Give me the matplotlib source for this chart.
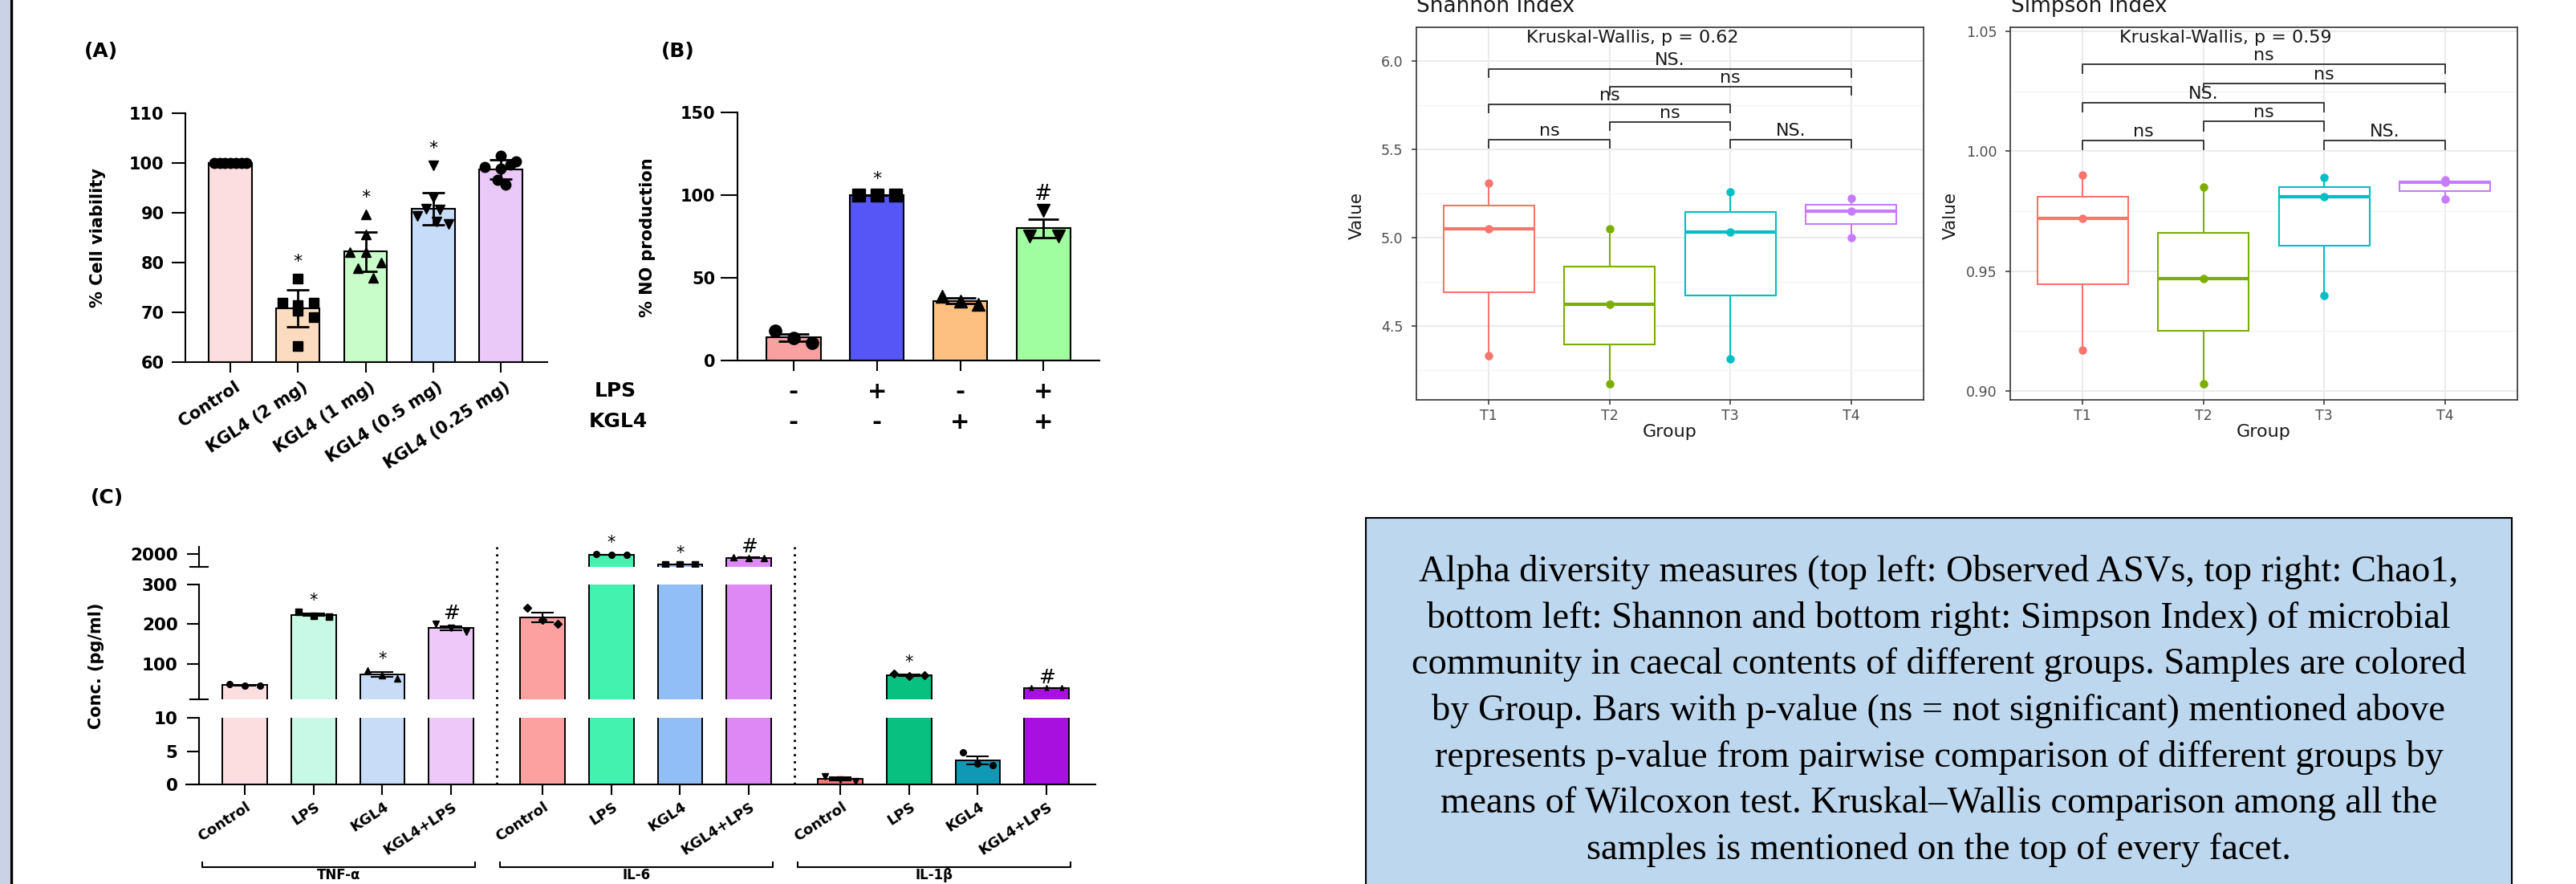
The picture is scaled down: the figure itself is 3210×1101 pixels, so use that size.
import numpy as np
import matplotlib
matplotlib.use('Agg')
import matplotlib.pyplot as plt
from matplotlib.patches import Rectangle
from matplotlib.lines import Line2D
from matplotlib.ticker import FormatStrFormatter
from matplotlib.transforms import blended_transform_factory, ScaledTranslation

# ---------------- data ----------------
# (A) cell viability
a_labels = ['Control', 'KGL4 (2 mg)', 'KGL4 (1 mg)', 'KGL4 (0.5 mg)', 'KGL4 (0.25 mg)']
a_mean = [100.0, 70.8, 82.2, 90.8, 98.7]
a_sd = [0.0, 3.7, 3.9, 3.2, 2.0]
a_points = [
    [100, 100, 100, 100, 100, 100, 100],
    [76.8, 72.0, 72.0, 71.5, 70.3, 69.1, 63.2],
    [89.6, 85.6, 82.1, 82.1, 80.0, 78.9, 77.0],
    [99.5, 93.0, 90.8, 90.6, 89.4, 88.3, 87.7],
    [101.4, 100.3, 99.6, 99.2, 98.8, 96.6, 95.6],
]
a_sig = ['', '*', '*', '*', '']
a_colors = ['#FDDEE0', '#FCDCC0', '#C8FCC8', '#C6DCF8', '#EAC8F8']

# (B) NO production
b_lps = ['-', '+', '-', '+']
b_kgl4 = ['-', '-', '+', '+']
b_mean = [13.9, 100.0, 36.1, 79.9]
b_sd = [2.1, 0.0, 1.6, 5.5]
b_points = [[17.9, 13.5, 10.9], [100, 100, 100], [38.7, 35.7, 34.0], [75.1, 91.0, 75.1]]
b_sig = ['', '*', '', '#']
b_colors = ['#F9A0A0', '#5656F7', '#FDC081', '#A0FDA0']

# (C) cytokines
c_cytokines = ['TNF-α', 'IL-6', 'IL-1β']
c_treat = ['Control', 'LPS', 'KGL4', 'KGL4+LPS']
c_mean = [[46, 223, 72.5, 190], [217, 1990, 1600, 1860], [0.84, 71, 3.6, 38.8]]
c_sem = [[1.0, 3.0, 6.5, 5.0], [12, 5, 5, 10], [0.2, 2.0, 0.6, 0.5]]
c_points = [
    [[49, 45, 45], [231, 220, 219], [83, 71, 62], [200, 191, 181]],
    [[242, 210, 201], [2000, 1990, 1980], [1600, 1600, 1600], [1870, 1860, 1850]],
    [[1.26, 0.77, 0.5], [75, 68, 70], [4.8, 3.1, 2.9], [39, 39, 38.5]],
]
c_sig = [['', '*', '*', '#'], ['', '*', '*', '#'], ['', '*', '', '#']]
c_colors = [['#FDDEE0', '#C8F8E6', '#C8DCF8', '#EEC8F8'],
            ['#FCA0A0', '#44F2B0', '#92BEF8', '#DE88F6'],
            ['#F87878', '#08C080', '#1098B4', '#A810E0']]

# alpha diversity
div_groups = ['T1', 'T2', 'T3', 'T4']
shannon = [[4.33, 5.05, 5.31], [4.17, 4.62, 5.05], [4.31, 5.03, 5.26], [5.00, 5.15, 5.22]]
simpson = [[0.917, 0.972, 0.990], [0.903, 0.947, 0.985], [0.940, 0.981, 0.989], [0.980, 0.987, 0.988]]
shannon_pairs = [(1, 2, 'ns'), (3, 4, 'NS.'), (2, 3, 'ns'), (1, 3, 'ns'), (2, 4, 'ns'), (1, 4, 'NS.')]
simpson_pairs = [(1, 2, 'ns'), (3, 4, 'NS.'), (2, 3, 'ns'), (1, 3, 'NS.'), (2, 4, 'ns'), (1, 4, 'ns')]
shannon_kw = 'Kruskal-Wallis, p = 0.62'
simpson_kw = 'Kruskal-Wallis, p = 0.59'
div_colors = ['#F8766D', '#7CAE00', '#00BFC4', '#C77CFF']

caption_lines = [
    'Alpha diversity measures (top left: Observed ASVs, top right: Chao1,',
    'bottom left: Shannon and bottom right: Simpson Index) of microbial',
    'community in caecal contents of different groups. Samples are colored',
    'by Group. Bars with p-value (ns = not significant) mentioned above',
    'represents p-value from pairwise comparison of different groups by',
    'means of Wilcoxon test. Kruskal\u2013Wallis comparison among all the',
    'samples is mentioned on the top of every facet.',
]

# ---------------- figure ----------------
W, H = 3210, 1101
DPI = 100
plt.rcParams['font.family'] = ['DejaVu Sans']
fig = plt.figure(figsize=(W / DPI, H / DPI), dpi=DPI)


def box(l, t, r, b):
    return [l / W, 1 - b / H, (r - l) / W, (b - t) / H]


def ftext(x, y, s, **kw):
    return fig.text(x / W, 1 - y / H, s, **kw)


def fline(xs, ys, **kw):
    fig.add_artist(Line2D([x / W for x in xs], [1 - y / H for y in ys], **kw))


BOLD = dict(fontweight='bold')

# left border
fig.add_artist(Rectangle((0, 0), 12 / W, 1, transform=fig.transFigure,
                         facecolor='#CAD2E6', edgecolor='none'))
fline([14, 14], [0, H], color='black', lw=2.5)


def prism(ax, ylen, ypad, ysize=15):
    for s in ['top', 'right']:
        ax.spines[s].set_visible(False)
    for s in ['left', 'bottom']:
        ax.spines[s].set_linewidth(1.5)
    ax.tick_params(axis='y', length=ylen, width=1.5, pad=ypad, labelsize=ysize)
    ax.tick_params(axis='x', length=9, width=1.5)
    for lbl in ax.get_yticklabels():
        lbl.set_fontweight('bold')


def shift_labels(ax, dx_px):
    for lbl in ax.get_xticklabels():
        lbl.set_transform(lbl.get_transform() + ScaledTranslation(dx_px / DPI, 0, fig.dpi_scale_trans))


# ---- (A) ----
axA = fig.add_axes(box(231, 141, 682, 451))
xa = np.arange(len(a_labels))
axA.bar(xa, a_mean, width=0.64, color=a_colors, edgecolor='black', linewidth=1.5, zorder=2)
a_marks = ['o', 's', '^', 'v', 'o']
a_offsets = [
    [-0.24, -0.16, -0.08, 0, 0.08, 0.16, 0.24],
    [0, -0.23, 0.23, 0, 0, 0.23, 0],
    [0, 0, -0.23, 0, 0.23, -0.11, 0.11],
    [0, 0, -0.1, 0.1, -0.23, 0.05, 0.23],
    [0, 0.23, 0.14, -0.24, 0, -0.05, 0.07],
]
for i in range(len(a_labels)):
    axA.plot(xa[i] + np.array(a_offsets[i]), a_points[i], ls='none', marker=a_marks[i],
             ms=9, color='black', zorder=3, clip_on=False)
axA.errorbar(xa, a_mean, yerr=a_sd, fmt='none', ecolor='black', elinewidth=2,
             capsize=10, capthick=2, zorder=4)
for i, s in enumerate(a_sig):
    if s:
        axA.annotate(s, (xa[i], max(a_points[i])), xytext=(0, 15), textcoords='offset pixels',
                     ha='center', va='baseline', fontsize=16, annotation_clip=False)
axA.set_xlim(-0.667, 4.69)
axA.set_ylim(60, 110)
axA.set_yticks(np.arange(60, 111, 10))
axA.set_xticks(xa)
axA.set_xticklabels(a_labels, rotation=33, ha='right', va='center', rotation_mode='anchor',
                    fontsize=15, **BOLD)
prism(axA, 12, 7)
axA.tick_params(axis='x', pad=12)
shift_labels(axA, 10)
ftext(126, 64, '(A)', fontsize=18, ha='center', va='center', **BOLD)
ftext(122, 296, '% Cell viability', fontsize=15, rotation=90, ha='center', va='center', **BOLD)

# ---- (B) ----
axB = fig.add_axes(box(919, 140, 1370, 449))
xb = np.arange(len(b_mean))
axB.bar(xb, b_mean, width=0.65, color=b_colors, edgecolor='black', linewidth=1.5, zorder=2)
b_marks = ['o', 's', '^', 'v']
b_offsets = [[-0.22, 0, 0.22], [-0.22, 0, 0.22], [-0.22, 0, 0.22], [-0.17, 0, 0.18]]
for i in range(len(b_mean)):
    axB.plot(xb[i] + np.array(b_offsets[i]), b_points[i], ls='none', marker=b_marks[i],
             ms=11, color='black', zorder=3, clip_on=False)
axB.errorbar(xb, b_mean, yerr=b_sd, fmt='none', ecolor='black', elinewidth=2,
             capsize=14, capthick=2, zorder=4)
for i, s in enumerate(b_sig):
    if s:
        axB.annotate(s, (xb[i], max(b_points[i])), xytext=(0, 14 if s == '*' else 13),
                     textcoords='offset pixels', ha='center', va='baseline',
                     fontsize=16 if s == '*' else 19, annotation_clip=False)
axB.set_xlim(-0.673, 3.67)
axB.set_ylim(0, 150)
axB.set_yticks([0, 50, 100, 150])
axB.set_xticks(xb)
axB.set_xticklabels([])
prism(axB, 15, 5)
ftext(845, 64, '(B)', fontsize=18, ha='center', va='center', **BOLD)
ftext(807, 296, '% NO production', fontsize=15, rotation=90, ha='center', va='center', **BOLD)
ftext(767, 487, 'LPS', fontsize=18, ha='center', va='center', **BOLD)
ftext(770, 525, 'KGL4', fontsize=18, ha='center', va='center', **BOLD)
trB = blended_transform_factory(axB.transData, fig.transFigure)
for i in range(len(b_mean)):
    fig.text(xb[i], 1 - 488 / H, b_lps[i], transform=trB, fontsize=21, ha='center', va='center', **BOLD)
    fig.text(xb[i], 1 - 526 / H, b_kgl4[i], transform=trB, fontsize=21, ha='center', va='center', **BOLD)

# ---- (C) ----
xc = np.array([g * 4.33 + t for g in range(3) for t in range(4)])
seg_lims = [(1500, 2300), (10, 300), (0, 10)]
seg_px = [(681, 706), (728, 871), (894, 977)]
seg_ticks = [[2000], [100, 200, 300], [0, 5, 10]]
c_marks = [['o', 's', '^', 'v'], ['D', 'o', 's', '^'], ['v', 'D', 'o', '*']]
c_off = np.array([-0.22, 0, 0.22])
y_axis_x = -0.665
segs = []
for k in range(3):
    lo, hi = seg_lims[k]
    ax = fig.add_axes(box(232, seg_px[k][0], 1365, seg_px[k][1]))
    ax.set_xlim(-0.852, 12.37)
    ax.set_ylim(lo, hi)
    ax.set_yticks(seg_ticks[k])
    for g in range(3):
        for t in range(4):
            x = xc[g * 4 + t]
            m = c_mean[g][t]
            ax.bar(x, m, width=0.65, color=c_colors[g][t], edgecolor='black',
                   linewidth=1.4, zorder=2)
            pts = np.array(c_points[g][t], dtype=float)
            keep = (pts >= lo) & (pts <= hi)
            if keep.any():
                ax.plot((x + c_off)[keep], pts[keep], ls='none', marker=c_marks[g][t], ms=5.5,
                        color='black', zorder=3)
            if lo <= m <= hi:
                ax.errorbar(x, m, yerr=c_sem[g][t], fmt='none', ecolor='black',
                            elinewidth=1.5, capsize=10, capthick=1.5, zorder=4)
    for s in ['top', 'right']:
        ax.spines[s].set_visible(False)
    ax.spines['left'].set_position(('data', y_axis_x))
    ax.spines['left'].set_linewidth(1.5)
    ax.tick_params(axis='y', length=11, width=1.5, pad=8, labelsize=15.5)
    for lbl in ax.get_yticklabels():
        lbl.set_fontweight('bold')
    if k < 2:
        ax.spines['bottom'].set_visible(False)
        ax.set_xticks([])
    segs.append(ax)

ax_bot = segs[2]
ax_bot.spines['bottom'].set_linewidth(1.5)
ax_bot.set_xticks(xc)
ax_bot.set_xticklabels(c_treat * 3, rotation=33, ha='right', va='center', rotation_mode='anchor',
                       fontsize=13, **BOLD)
ax_bot.tick_params(axis='x', length=9, width=1.5, pad=10)
shift_labels(ax_bot, 6)

for g in range(3):
    for t in range(4):
        s = c_sig[g][t]
        if not s:
            continue
        top = max(max(c_points[g][t]), c_mean[g][t] + c_sem[g][t])
        ax = segs[0] if top > 300 else (segs[1] if top > 10 else segs[2])
        ax.annotate(s, (xc[g * 4 + t], top), xytext=(0, 8 if s == '*' else 6),
                    textcoords='offset pixels', ha='center', va='baseline',
                    fontsize=15 if s == '*' else 18, annotation_clip=False)

# break caps on the y axis
for y in (706, 871):
    fline([237, 259], [y, y], color='black', lw=1.5)

# dotted separators and group brackets
trC = blended_transform_factory(ax_bot.transData, fig.transFigure)
for xs in (xc[3] + 0.66, xc[7] + 0.66):
    ax_bot.plot([xs, xs], [1 - 977 / H, 1 - 681 / H], transform=trC, color='black', lw=2,
                ls=(0, (1, 2.2)), clip_on=False)
for g in range(3):
    x0, x1 = xc[g * 4] - 0.62, xc[g * 4 + 3] + 0.35
    ax_bot.plot([x0, x0, x1, x1], [1 - 1074 / H, 1 - 1080 / H, 1 - 1080 / H, 1 - 1074 / H],
                transform=trC, color='black', lw=1.5, clip_on=False)
    fig.text((x0 + x1) / 2, 1 - 1099 / H, c_cytokines[g], transform=trC, fontsize=12,
             ha='center', va='bottom', **BOLD)

ftext(133, 620, '(C)', fontsize=18, ha='center', va='center', **BOLD)
ftext(120, 829, 'Conc. (pg/ml)', fontsize=15, rotation=90, ha='center', va='center', **BOLD)


# ---------------- alpha diversity ----------------
def diversity(ax, values, ylim, major, minor, fmt, pairs, base, step, tip, kw_text, kw_pos):
    pos = np.arange(1, len(values) + 1)
    for i, v in enumerate(values):
        c = div_colors[i]
        ax.boxplot([v], positions=[pos[i]], widths=0.75, patch_artist=True, showfliers=False,
                   showcaps=False, manage_ticks=False,
                   boxprops=dict(facecolor='white', edgecolor=c, linewidth=1.5),
                   medianprops=dict(color=c, linewidth=3),
                   whiskerprops=dict(color=c, linewidth=1.5), zorder=3)
        ax.plot([pos[i]] * len(v), v, 'o', color=c, ms=6.5, zorder=4)
    levels = [0, 0, 1, 2, 3, 4]
    for (g1, g2, lab), lv in zip(pairs, levels):
        y = base + step * lv
        ax.plot([g1, g1, g2, g2], [y - tip, y, y, y - tip], color='#3A3A3A', lw=1.4, zorder=5)
        ax.annotate(lab, ((g1 + g2) / 2, y), xytext=(0, 5), textcoords='offset pixels',
                    ha='center', va='baseline', fontsize=16, color='#1A1A1A')
    ax.text(kw_pos[0], kw_pos[1], kw_text, ha='center', va='center', fontsize=16, color='#1A1A1A')
    ax.set_xlim(0.4, 4.6)
    ax.set_ylim(*ylim)
    ax.set_xticks(pos)
    ax.set_xticklabels(div_groups)
    ax.set_yticks(major)
    ax.set_yticks(minor, minor=True)
    ax.yaxis.set_major_formatter(FormatStrFormatter(fmt))
    ax.grid(which='major', color='#EBEBEB', lw=1.4)
    ax.grid(which='minor', axis='y', color='#F3F3F3', lw=0.9)
    ax.set_axisbelow(True)
    for s in ax.spines.values():
        s.set_color('#333333')
        s.set_linewidth(1.2)
    ax.tick_params(which='major', length=4, width=1.1, color='#333333', labelcolor='#4D4D4D',
                   labelsize=12.5)
    ax.tick_params(axis='y', pad=8)
    ax.tick_params(axis='x', pad=4)
    ax.tick_params(which='minor', length=0)


axS = fig.add_axes(box(1765, 34, 2397, 498))
diversity(axS, shannon, (4.08, 6.19), [4.5, 5.0, 5.5, 6.0], [4.25, 4.75, 5.25, 5.75], '%.1f',
          shannon_pairs, 5.555, 0.0995, 0.047, shannon_kw, (2.19, 6.13))
axP = fig.add_axes(box(2505, 34, 3137, 498))
diversity(axP, simpson, (0.8963, 1.0517), [0.90, 0.95, 1.00, 1.05], [0.925, 0.975, 1.025], '%.2f',
          simpson_pairs, 1.00436, 0.008, 0.0037, simpson_kw, (2.18, 1.0474))

for x_title, x_ylab, x_center, title in ((1765, 1691, 2081, 'Shannon Index'),
                                         (2506, 2431, 2821, 'Simpson Index')):
    ftext(x_title, 15, title, fontsize=19, ha='left', va='baseline', color='#1A1A1A')
    ftext(x_ylab, 268, 'Value', fontsize=15.5, rotation=90, ha='center', va='center', color='#1A1A1A')
    ftext(x_center, 538, 'Group', fontsize=16, ha='center', va='center', color='#1A1A1A')

# ---------------- caption box ----------------
fig.add_artist(Rectangle((1702 / W, 1 - 1115 / H), (3130 - 1702) / W, (1115 - 645) / H,
                         transform=fig.transFigure, facecolor='#BDD7EE', edgecolor='black', lw=1.5))
for i, line in enumerate(caption_lines):
    ftext(2416, 724 + 57.7 * i, line, fontsize=33.5, family='Liberation Serif',
          ha='center', va='baseline', color='black')

fig.savefig('out.png', dpi=DPI)
